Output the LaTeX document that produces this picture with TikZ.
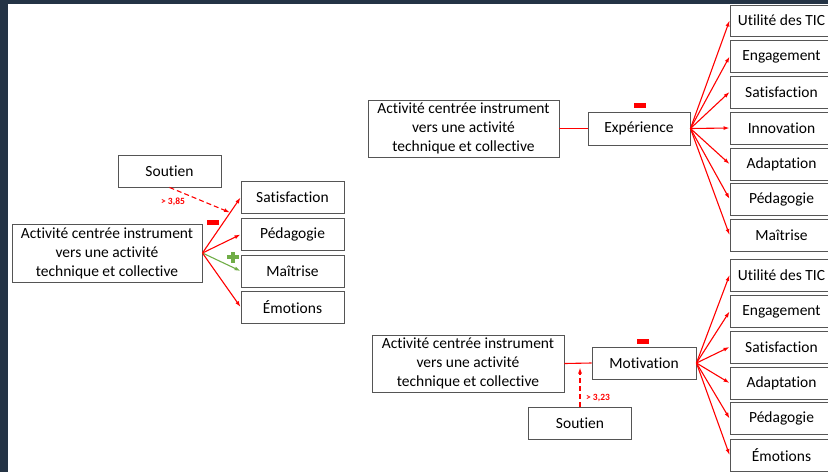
\documentclass[tikz,border=0pt]{standalone}
\usepackage{fontspec}
\setmainfont{Carlito}[Ligatures=NoCommon]
\usetikzlibrary{arrows.meta,positioning}
\definecolor{frame}{RGB}{36,51,69}
\definecolor{plusgreen}{RGB}{112,173,71}
\definecolor{boxline}{RGB}{85,85,85}

\begin{document}
\begin{tikzpicture}[x=1pt,y=-1pt,
    box/.style={rectangle,draw=boxline,line width=0.9pt,minimum width=103pt,minimum height=32pt,inner sep=0pt,font=\fontsize{15.5}{19}\selectfont},
    actbox/.style={box,minimum width=191pt,minimum height=57pt,align=center},
    link/.style={red,line width=1.1pt},
    arr/.style={link,-{Latex[length=6pt,width=4pt]}},
    dasharr/.style={arr,dash pattern=on 5pt off 3pt},
    gain/.style={font=\bfseries\fontsize{9.5}{10}\selectfont,text=red},
    minus/.style={fill=red,minimum width=12pt,minimum height=5pt,inner sep=0pt}
  ]
    \useasboundingbox (0,0) rectangle (828,472);
    % Window frame
    \fill[frame] (0,0) rectangle (828,4);
    \fill[frame] (0,0) rectangle (8,472);

    % Left panel
    \node[actbox,minimum width=190pt,minimum height=58pt] (actL) at (107,253) {Activité centrée instrument\\vers une activité\\technique et collective};
    \node[box] (soutL) at (169.5,171) {Soutien};
    \node[box] (satL) at (292.5,197.5) {Satisfaction};
    \node[box] (pedL) at (292.5,234.5) {Pédagogie};
    \node[box] (maiL) at (292.5,271) {Maîtrise};
    \node[box] (emoL) at (292.5,307) {Émotions};
    \draw[arr] (actL.east) -- (satL.west);
    \draw[arr] (actL.east) -- (pedL.west);
    \draw[arr,plusgreen] (actL.east) -- (maiL.west);
    \draw[arr] (actL.east) -- (emoL.west);
    \coordinate (hitL) at (230,212.5);
    \draw[dasharr] (soutL.south) -- (hitL);
    \node[gain] (gainL) at (173,201.5) {> 3,85};
    \node[minus] (minusL) at (213,222) {};
    \coordinate (plusL) at (233,257);
    \draw[plusgreen,line width=4pt] ([xshift=-6pt]plusL) -- ([xshift=6pt]plusL)
      ([yshift=-5.5pt]plusL) -- ([yshift=5.5pt]plusL);

    % Top right panel
    \node[actbox] (actE) at (463.5,128.5) {Activité centrée instrument\\vers une activité\\technique et collective};
    \node[box,minimum width=102pt,minimum height=33pt] (exp) at (639,128.5) {Expérience};
    \draw[link] (actE.east) -- (exp.west);
    \node[minus] (minusE) at (640,105) {};
    \node[box,minimum height=31pt] (utiE) at (781.5,20.5) {Utilité des TIC};
    \node[box] (engE) at (781.5,56.5) {Engagement};
    \node[box] (satE) at (781.5,92) {Satisfaction};
    \node[box] (innE) at (781.5,128) {Innovation};
    \node[box] (adaE) at (781.5,164) {Adaptation};
    \node[box] (pedE) at (781.5,199) {Pédagogie};
    \node[box] (maiE) at (781.5,235) {Maîtrise};
    \draw[arr] (exp.east) -- (utiE.west);
    \draw[arr] (exp.east) -- (engE.west);
    \draw[arr] (exp.east) -- (satE.west);
    \draw[arr] (exp.east) -- (innE.west);
    \draw[arr] (exp.east) -- (adaE.west);
    \draw[arr] (exp.east) -- (pedE.west);
    \draw[arr] (exp.east) -- (maiE.west);

    % Bottom right panel
    \node[actbox,minimum width=192pt] (actM) at (468,363.5) {Activité centrée instrument\\vers une activité\\technique et collective};
    \node[box,minimum width=104pt] (mot) at (644,363) {Motivation};
    \draw[link] (actM.east) -- (mot.west);
    \node[minus] (minusM) at (643,341) {};
    \node[box] (soutM) at (580,423) {Soutien};
    \coordinate (hitM) at (580,367.5);
    \draw[dasharr] (soutM.north) -- (hitM);
    \node[gain] (gainM) at (598,398) {> 3,23};
    \node[box] (utiM) at (781.5,275) {Utilité des TIC};
    \node[box] (engM) at (781.5,311.5) {Engagement};
    \node[box] (satM) at (781.5,347) {Satisfaction};
    \node[box] (adaM) at (781.5,383) {Adaptation};
    \node[box] (pedM) at (781.5,418.5) {Pédagogie};
    \node[box] (emoM) at (781.5,455) {Émotions};
    \draw[arr] (mot.east) -- (utiM.west);
    \draw[arr] (mot.east) -- (engM.west);
    \draw[arr] (mot.east) -- (satM.west);
    \draw[arr] (mot.east) -- (adaM.west);
    \draw[arr] (mot.east) -- (pedM.west);
    \draw[arr] (mot.east) -- (emoM.west);
\end{tikzpicture}
\end{document}
